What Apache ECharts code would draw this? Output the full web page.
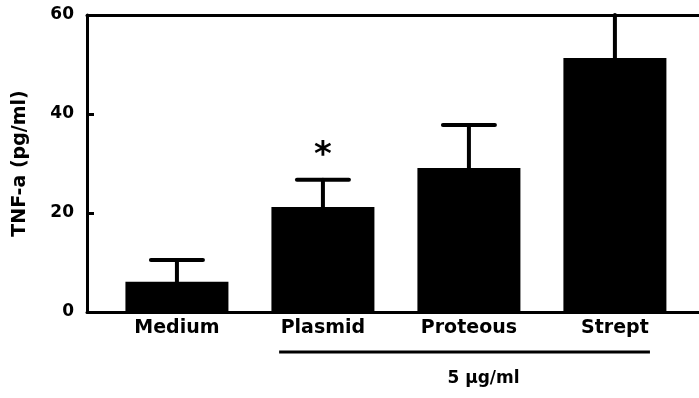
<!DOCTYPE html>
<html>
<head>
<meta charset="utf-8">
<script src="https://cdn.jsdelivr.net/npm/echarts@6/dist/echarts.min.js"></script>
<style>html,body{margin:0;padding:0;background:#fff;}#c{width:699px;height:398px;}</style>
</head>
<body>
<div id="c"></div>
<script>
const categories = ['Medium', 'Plasmid', 'Proteous', 'Strept'];
const means = [6.1, 21.2, 29.1, 51.3];
const upperErr = [10.5, 26.7, 37.8, 60];
const significance = ['', '*', '', ''];
const yTicks = [0, 20, 40, 60];
const groupLabel = '5 μg/ml';
const yTitle = 'TNF-a (pg/ml)';

const FONT = 'DejaVu Sans';
const chart = echarts.init(document.getElementById('c'), null, {renderer: 'canvas'});

const barData = means.map((v, i) => [i + 1, v]);
const errData = means.map((v, i) => [i + 1, v, upperErr[i], significance[i]]);
const XMIN = 0.384, XMAX = 4.576;

chart.setOption({
  animation: false,
  backgroundColor: '#fff',
  grid: {left: 87, right: 0, top: 15, bottom: 86},
  xAxis: [{
    type: 'value', min: XMIN, max: XMAX,
    splitLine: {show: false},
    axisLine: {show: true, onZero: false, lineStyle: {color: '#000', width: 3}},
    axisTick: {show: false},
    axisLabel: {
      customValues: [1, 2, 3, 4],
      formatter: v => categories[Math.round(v) - 1] || '',
      color: '#000', fontFamily: FONT, fontWeight: 'bold', fontSize: 19, margin: 7
    }
  }, {
    type: 'value', min: XMIN, max: XMAX, position: 'top',
    splitLine: {show: false},
    axisLine: {show: true, onZero: false, lineStyle: {color: '#000', width: 3}},
    axisTick: {show: false}, axisLabel: {show: false}
  }],
  yAxis: {
    type: 'value', min: yTicks[0], max: yTicks[yTicks.length - 1], interval: 20,
    splitLine: {show: false},
    axisLine: {show: true, lineStyle: {color: '#000', width: 3}},
    axisTick: {show: true, inside: true, length: 7, lineStyle: {color: '#000', width: 3}},
    axisLabel: {color: '#000', fontFamily: FONT, fontWeight: 'bold', fontSize: 17, margin: 13},
    name: yTitle, nameLocation: 'middle', nameRotate: 90, nameGap: 57,
    nameTextStyle: {color: '#000', fontFamily: FONT, fontWeight: 'bold', fontSize: 19}
  },
  series: [
    {
      type: 'bar', data: barData, barWidth: 103,
      itemStyle: {color: '#000'}
    },
    {
      type: 'custom', data: errData, z: 3,
      renderItem: function (params, api) {
        const x = api.value(0);
        const p0 = api.coord([x, api.value(1)]);
        const p1 = api.coord([x, api.value(2)]);
        const half = 26;
        const style = {stroke: '#000', lineWidth: 4, lineCap: 'round'};
        const children = [
          {type: 'line', shape: {x1: p0[0], y1: p0[1], x2: p1[0], y2: p1[1]}, style: style}
        ];
        if (api.value(2) < 60) {
          children.push({type: 'line', shape: {x1: p1[0] - half, y1: p1[1], x2: p1[0] + half, y2: p1[1]}, style: style});
        }
        const sig = api.value(3);
        if (sig) {
          children.push({type: 'text', style: {text: sig, x: p1[0], y: p1[1] - 24, align: 'center', verticalAlign: 'middle',
            font: 'bold 34px "' + FONT + '"', fill: '#000'}});
        }
        return {type: 'group', children: children};
      }
    }
  ]
});

const a = chart.convertToPixel({gridIndex: 0}, [1.7, 0]);
const b = chart.convertToPixel({gridIndex: 0}, [4.24, 0]);
const c = chart.convertToPixel({gridIndex: 0}, [3.1, 0]);
chart.setOption({
  graphic: [
    {type: 'line', shape: {x1: a[0], y1: 352, x2: b[0], y2: 352}, style: {stroke: '#000', lineWidth: 3}},
    {type: 'text', style: {text: groupLabel, x: c[0], y: 379, align: 'center', verticalAlign: 'middle',
      font: 'bold 17px "' + FONT + '"', fill: '#000'}}
  ]
});
</script>
</body>
</html>
